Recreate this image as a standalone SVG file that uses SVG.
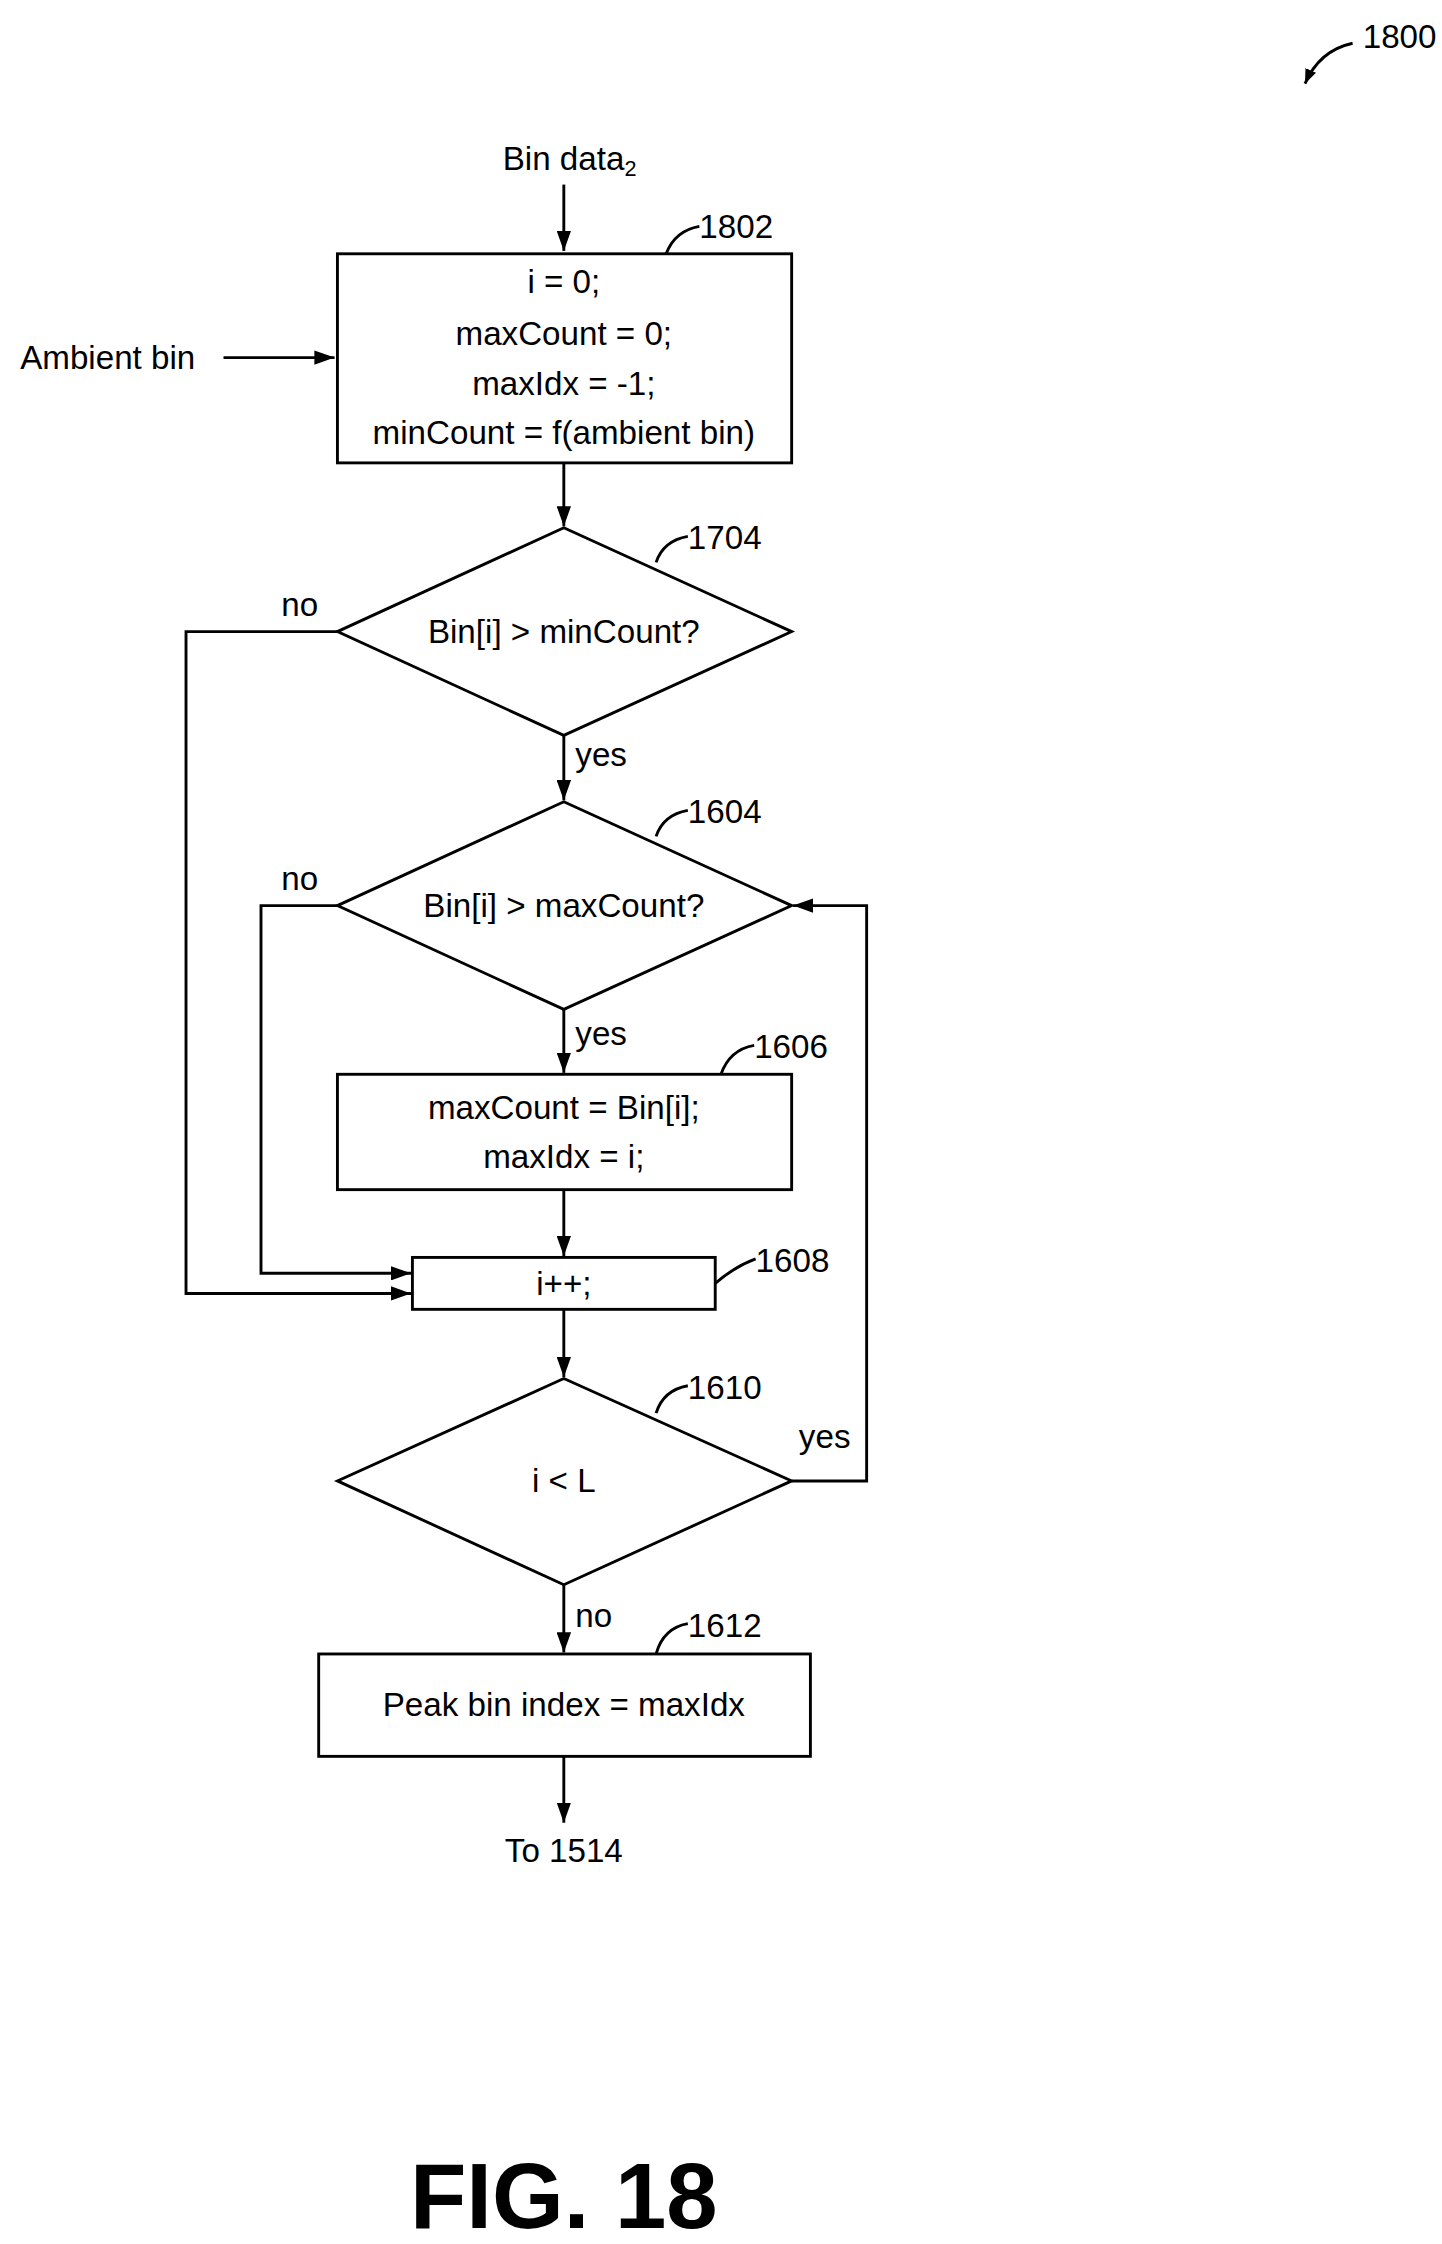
<svg xmlns="http://www.w3.org/2000/svg" width="1442" height="2244" viewBox="0 0 1442 2244">
<defs>
<style>
.s{fill:none;stroke:#000;stroke-width:2}
.b{fill:#fff;stroke:#000;stroke-width:2}
text{font-family:"Liberation Sans",Arial,sans-serif;font-size:23px;fill:#000}
.c{text-anchor:middle}
</style>
<marker id="a" markerWidth="10" markerHeight="8" refX="10" refY="4" orient="auto" markerUnits="userSpaceOnUse"><path d="M0,0 L10,4 L0,8 Z" fill="#000"/></marker>
<marker id="a2" markerWidth="14" markerHeight="10" refX="14" refY="5" orient="auto" markerUnits="userSpaceOnUse"><path d="M0,0 L14,5 L0,10 Z" fill="#000"/></marker>
</defs>
<rect width="1442" height="2244" fill="#fff"/>
<g transform="scale(1.442)">
<g id="labels">
<text x="945" y="33">1800</text>
<path class="s" d="M938,30 Q915,35 905,58" marker-end="url(#a)"/>
<text class="c" x="395" y="118">Bin data<tspan font-size="15" dy="4">2</tspan></text>
<text x="14" y="256">Ambient bin</text>
<text class="c" x="391" y="1291">To 1514</text>
<text class="c" x="391" y="1545" style="font-size:64px;font-weight:bold">FIG. 18</text>
</g>
<g id="connectors">
<path class="s" d="M391,128 V174" marker-end="url(#a2)"/>
<path class="s" d="M155,248 H232" marker-end="url(#a2)"/>
<path class="s" d="M391,321 V365" marker-end="url(#a2)"/>
<path class="s" d="M234,438 H129 V897 H285" marker-end="url(#a2)"/>
<path class="s" d="M391,510 V555" marker-end="url(#a2)"/>
<path class="s" d="M234,628 H181 V883 H285" marker-end="url(#a2)"/>
<path class="s" d="M391,700 V744" marker-end="url(#a2)"/>
<path class="s" d="M391,825 V871" marker-end="url(#a2)"/>
<path class="s" d="M391,908 V955" marker-end="url(#a2)"/>
<path class="s" d="M549,1027 H601 V628 H550" marker-end="url(#a2)"/>
<path class="s" d="M391,1099 V1146" marker-end="url(#a2)"/>
<path class="s" d="M391,1218 V1264" marker-end="url(#a2)"/>
<text x="195" y="427">no</text>
<text x="399" y="531">yes</text>
<text x="195" y="617">no</text>
<text x="399" y="725">yes</text>
<text x="554" y="1004">yes</text>
<text x="399" y="1128">no</text>
</g>
<g id="n1802">
<rect class="b" x="234" y="176" width="315" height="145"/>
<text class="c" x="391" y="203">i = 0;</text>
<text class="c" x="391" y="239">maxCount = 0;</text>
<text class="c" x="391" y="274">maxIdx = -1;</text>
<text class="c" x="391" y="308">minCount = f(ambient bin)</text>
<path class="s" d="M462,176 Q468,160 485,157"/><text x="485" y="165">1802</text>
</g>
<g id="n1704">
<polygon class="b" points="391,366 549,438 391,510 234,438"/>
<text class="c" x="391" y="446">Bin[i] &gt; minCount?</text>
<path class="s" d="M455,390 Q460,375 477,372"/><text x="477" y="381">1704</text>
</g>
<g id="n1604">
<polygon class="b" points="391,556 549,628 391,700 234,628"/>
<text class="c" x="391" y="636">Bin[i] &gt; maxCount?</text>
<path class="s" d="M455,580 Q460,565 477,562"/><text x="477" y="571">1604</text>
</g>
<g id="n1606">
<rect class="b" x="234" y="745" width="315" height="80"/>
<text class="c" x="391" y="776">maxCount = Bin[i];</text>
<text class="c" x="391" y="810">maxIdx = i;</text>
<path class="s" d="M500,745 Q506,728 523,725"/><text x="523" y="734">1606</text>
</g>
<g id="n1608">
<rect class="b" x="286" y="872" width="210" height="36"/>
<text class="c" x="391" y="898">i++;</text>
<path class="s" d="M496,890 Q510,878 524,873"/><text x="524" y="882">1608</text>
</g>
<g id="n1610">
<polygon class="b" points="391,956 549,1027 391,1099 234,1027"/>
<text class="c" x="391" y="1035">i &lt; L</text>
<path class="s" d="M455,980 Q460,964 477,961"/><text x="477" y="970">1610</text>
</g>
<g id="n1612">
<rect class="b" x="221" y="1147" width="341" height="71"/>
<text class="c" x="391" y="1190">Peak bin index = maxIdx</text>
<path class="s" d="M455,1147 Q460,1129 477,1126"/><text x="477" y="1135">1612</text>
</g>
</g>
</svg>
